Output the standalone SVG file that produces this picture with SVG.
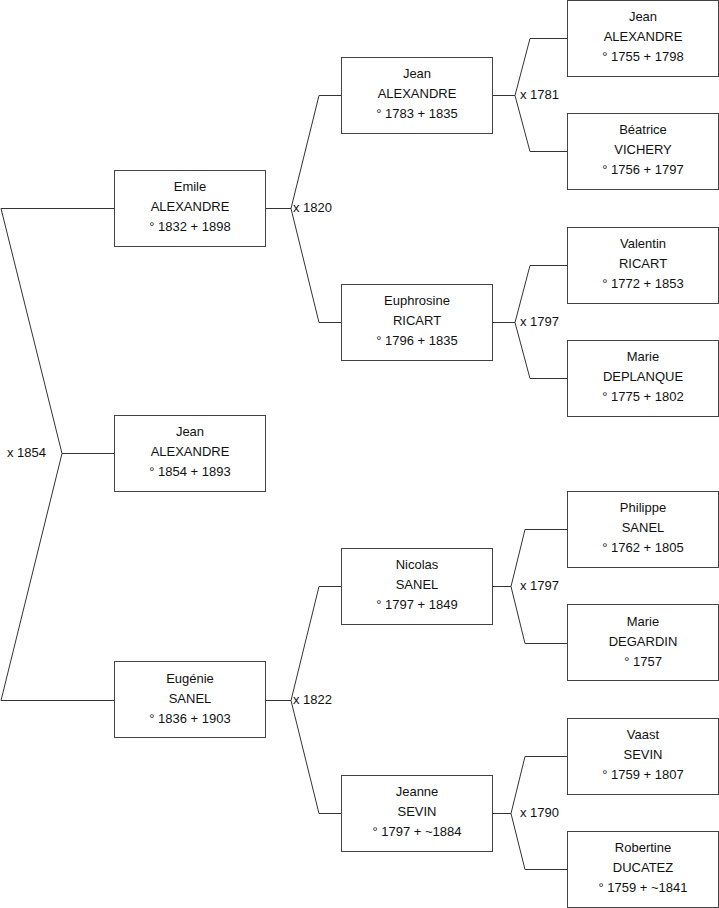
<svg xmlns="http://www.w3.org/2000/svg" width="719" height="908" viewBox="0 0 719 908">
<style>
.bg{fill:#ffffff}
.box{fill:#ffffff;stroke:#444444;stroke-width:1}
.t{font-family:"Liberation Sans",Arial,sans-serif;font-size:13px;fill:#111111;text-anchor:middle}
.lbl{font-family:"Liberation Sans",Arial,sans-serif;font-size:13px;fill:#111111}
.c{fill:none;stroke:#333333;stroke-width:1}
</style>
<rect class="bg" x="0" y="0" width="719" height="908"/>
<g id="connectors">
<polyline class="c" points="114,208.5 1,208.5 62,453.5 1,700.5 114,700.5"/>
<line class="c" x1="62" y1="453.5" x2="114" y2="453.5"/>
<polyline class="c" points="341,95.5 319,95.5 291,208.5 319,322.5 341,322.5"/>
<line class="c" x1="265" y1="208.5" x2="291" y2="208.5"/>
<polyline class="c" points="341,586.5 319,586.5 291,700.5 319,813.5 341,813.5"/>
<line class="c" x1="265" y1="700.5" x2="291" y2="700.5"/>
<polyline class="c" points="567,38.5 530,38.5 515,95.5 530,151.5 567,151.5"/>
<line class="c" x1="492" y1="95.5" x2="515" y2="95.5"/>
<polyline class="c" points="567,265.5 530,265.5 515,322.5 530,378.5 567,378.5"/>
<line class="c" x1="492" y1="322.5" x2="515" y2="322.5"/>
<polyline class="c" points="567,529.5 525,529.5 511,586.5 525,643.5 567,643.5"/>
<line class="c" x1="492" y1="586.5" x2="511" y2="586.5"/>
<polyline class="c" points="567,756.5 525,756.5 511,813.5 525,869.5 567,869.5"/>
<line class="c" x1="492" y1="813.5" x2="511" y2="813.5"/>
<text class="lbl" x="7" y="456.5">x 1854</text>
<text class="lbl" x="293" y="211.5">x 1820</text>
<text class="lbl" x="293" y="703.5">x 1822</text>
<text class="lbl" x="520" y="98.5">x 1781</text>
<text class="lbl" x="520" y="325.5">x 1797</text>
<text class="lbl" x="520" y="589.5">x 1797</text>
<text class="lbl" x="520" y="816.5">x 1790</text>
</g>
<g id="emile">
<rect class="box" x="114.5" y="170.5" width="151" height="76"/>
<text class="t" x="190" y="191">Emile</text>
<text class="t" x="190" y="211">ALEXANDRE</text>
<text class="t" x="190" y="231">° 1832 + 1898</text>
</g>
<g id="jean1854">
<rect class="box" x="114.5" y="415.5" width="151" height="76"/>
<text class="t" x="190" y="436">Jean</text>
<text class="t" x="190" y="456">ALEXANDRE</text>
<text class="t" x="190" y="476">° 1854 + 1893</text>
</g>
<g id="eugenie">
<rect class="box" x="114.5" y="661.5" width="151" height="76"/>
<text class="t" x="190" y="683">Eugénie</text>
<text class="t" x="190" y="703">SANEL</text>
<text class="t" x="190" y="723">° 1836 + 1903</text>
</g>
<g id="jean1783">
<rect class="box" x="341.5" y="57.5" width="151" height="76"/>
<text class="t" x="417" y="78">Jean</text>
<text class="t" x="417" y="98">ALEXANDRE</text>
<text class="t" x="417" y="118">° 1783 + 1835</text>
</g>
<g id="euphrosine">
<rect class="box" x="341.5" y="284.5" width="151" height="76"/>
<text class="t" x="417" y="305">Euphrosine</text>
<text class="t" x="417" y="325">RICART</text>
<text class="t" x="417" y="345">° 1796 + 1835</text>
</g>
<g id="nicolas">
<rect class="box" x="341.5" y="548.5" width="151" height="76"/>
<text class="t" x="417" y="569">Nicolas</text>
<text class="t" x="417" y="589">SANEL</text>
<text class="t" x="417" y="609">° 1797 + 1849</text>
</g>
<g id="jeanne">
<rect class="box" x="341.5" y="775.5" width="151" height="76"/>
<text class="t" x="417" y="796">Jeanne</text>
<text class="t" x="417" y="816">SEVIN</text>
<text class="t" x="417" y="836">° 1797 + ~1884</text>
</g>
<g id="jean1755">
<rect class="box" x="567.5" y="0.5" width="151" height="76"/>
<text class="t" x="643" y="21">Jean</text>
<text class="t" x="643" y="41">ALEXANDRE</text>
<text class="t" x="643" y="61">° 1755 + 1798</text>
</g>
<g id="beatrice">
<rect class="box" x="567.5" y="113.5" width="151" height="76"/>
<text class="t" x="643" y="134">Béatrice</text>
<text class="t" x="643" y="154">VICHERY</text>
<text class="t" x="643" y="174">° 1756 + 1797</text>
</g>
<g id="valentin">
<rect class="box" x="567.5" y="227.5" width="151" height="76"/>
<text class="t" x="643" y="248">Valentin</text>
<text class="t" x="643" y="268">RICART</text>
<text class="t" x="643" y="288">° 1772 + 1853</text>
</g>
<g id="marie1775">
<rect class="box" x="567.5" y="340.5" width="151" height="76"/>
<text class="t" x="643" y="361">Marie</text>
<text class="t" x="643" y="381">DEPLANQUE</text>
<text class="t" x="643" y="401">° 1775 + 1802</text>
</g>
<g id="philippe">
<rect class="box" x="567.5" y="491.5" width="151" height="76"/>
<text class="t" x="643" y="512">Philippe</text>
<text class="t" x="643" y="532">SANEL</text>
<text class="t" x="643" y="552">° 1762 + 1805</text>
</g>
<g id="marie1757">
<rect class="box" x="567.5" y="604.5" width="151" height="76"/>
<text class="t" x="643" y="626">Marie</text>
<text class="t" x="643" y="646">DEGARDIN</text>
<text class="t" x="643" y="666">° 1757</text>
</g>
<g id="vaast">
<rect class="box" x="567.5" y="718.5" width="151" height="76"/>
<text class="t" x="643" y="739">Vaast</text>
<text class="t" x="643" y="759">SEVIN</text>
<text class="t" x="643" y="779">° 1759 + 1807</text>
</g>
<g id="robertine">
<rect class="box" x="567.5" y="831.5" width="151" height="76"/>
<text class="t" x="643" y="852">Robertine</text>
<text class="t" x="643" y="872">DUCATEZ</text>
<text class="t" x="643" y="892">° 1759 + ~1841</text>
</g>
</svg>
